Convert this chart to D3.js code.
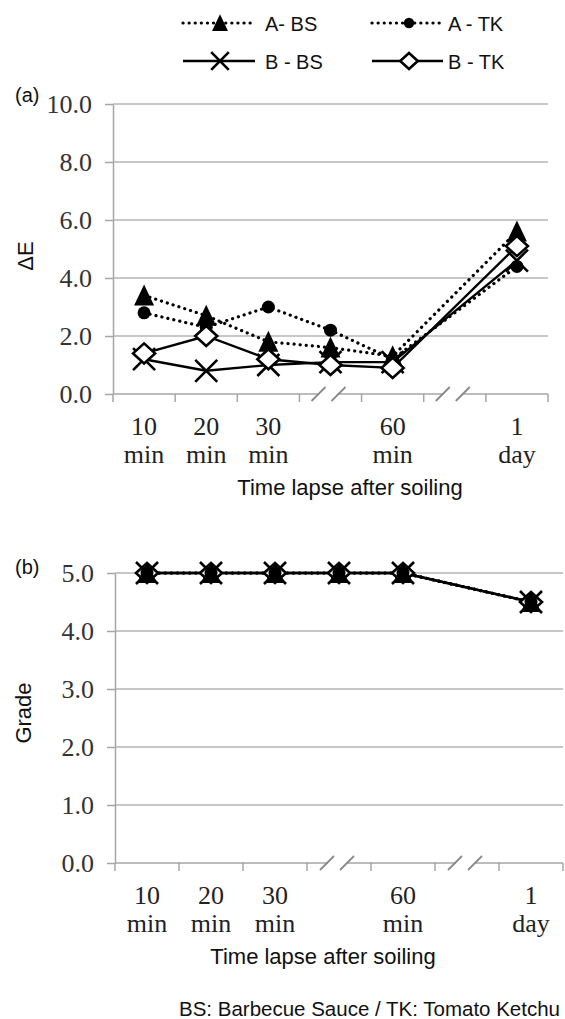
<!DOCTYPE html>
<html>
<head>
<meta charset="utf-8">
<script src="https://d3js.org/d3.v7.min.js"></script>
<style>
  body { margin: 0; background: #fff; }
  svg { display: block; }
</style>
</head>
<body>
<div id="chart"></div>
<script>
// x categories; the 4th and 6th slots are the broken parts of the axis
var categories = ["10min", "20min", "30min", "gap1", "60min", "gap2", "1day"];
var tickLabels = [["10", "min"], ["20", "min"], ["30", "min"], [], ["60", "min"], [], ["1", "day"]];
var breakSlots = ["gap1", "gap2"];

var seriesNames = ["A- BS", "A - TK", "B - BS", "B - TK"];

// (a) colour difference
var dE_A_BS = [3.4, 2.7, 1.8, 1.6, 1.3, null, 5.6];
var dE_A_TK = [2.8, 2.3, 3.0, 2.2, 1.2, null, 4.4];
var dE_B_BS = [1.2, 0.8, 1.0, 1.1, 1.1, null, 4.6];
var dE_B_TK = [1.4, 2.0, 1.2, 1.0, 0.9, null, 5.1];

// (b) grade
var gr_A_BS = [5.0, 5.0, 5.0, 5.0, 5.0, null, 4.5];
var gr_A_TK = [5.0, 5.0, 5.0, 5.0, 5.0, null, 4.5];
var gr_B_BS = [5.0, 5.0, 5.0, 5.0, 5.0, null, 4.5];
var gr_B_TK = [5.0, 5.0, 5.0, 5.0, 5.0, null, 4.5];

var yTicksA = [0, 2, 4, 6, 8, 10];
var yTicksB = [0, 1, 2, 3, 4, 5];

// styles
var markers = ["triangle", "circle", "cross", "diamond"];
var dotted = [true, true, false, false];
var serif = "'Liberation Serif', 'Times New Roman', serif";
var sans = "'Liberation Sans', Arial, sans-serif";
var gridColor = "#b4b4b4";
var axisColor = "#a6a6a6";

var svg = d3.select("#chart").append("svg")
    .attr("width", 565)
    .attr("height", 1019);
svg.append("rect").attr("width", 565).attr("height", 1019).attr("fill", "#fff");

function drawMarker(g, type, s) {
    if (type === "triangle") {
        g.append("path")
            .attr("d", "M0," + (-11 * s) + "L" + (10 * s) + "," + (10 * s) + "L" + (-10 * s) + "," + (10 * s) + "Z")
            .attr("fill", "#000");
    } else if (type === "circle") {
        g.append("circle").attr("r", 6.5 * s).attr("fill", "#000");
    } else if (type === "cross") {
        g.append("path")
            .attr("d", "M" + (-11 * s) + "," + (-11 * s) + "L" + (11 * s) + "," + (11 * s) +
                "M" + (11 * s) + "," + (-11 * s) + "L" + (-11 * s) + "," + (11 * s))
            .attr("stroke", "#000").attr("stroke-width", 2.6).attr("fill", "none");
    } else {
        g.append("path")
            .attr("d", "M0," + (-10 * s) + "L" + (11 * s) + ",0L0," + (10 * s) + "L" + (-11 * s) + ",0Z")
            .attr("stroke", "#000").attr("stroke-width", 2.6).attr("fill", "#fff");
    }
}

function styleLine(sel, isDotted) {
    sel.attr("fill", "none").attr("stroke", "#000");
    if (isDotted) {
        sel.attr("stroke-width", 3.2).attr("stroke-dasharray", "0.1,6").attr("stroke-linecap", "round");
    } else {
        sel.attr("stroke-width", 2.4);
    }
}

function panel(cfg) {
    var x = d3.scaleBand().domain(categories).range([cfg.left, cfg.right]);
    var y = d3.scaleLinear().domain([0, cfg.yMax]).range([cfg.bottom, cfg.top]);
    var bw = x.bandwidth();
    var g = svg.append("g");

    // gridlines
    g.append("g").selectAll("line")
        .data(cfg.yTicks.slice(1))
        .join("line")
        .attr("x1", cfg.left).attr("x2", cfg.right)
        .attr("y1", d => y(d)).attr("y2", d => y(d))
        .attr("stroke", gridColor).attr("stroke-width", 1.5);

    // y axis
    var ya = g.append("g")
        .attr("transform", "translate(" + cfg.left + ",0)")
        .call(d3.axisLeft(y).tickValues(cfg.yTicks).tickFormat(d3.format(".1f"))
            .tickSize(8).tickSizeOuter(0).tickPadding(13));
    ya.select(".domain").attr("stroke", axisColor).attr("stroke-width", 1.5);
    ya.selectAll(".tick line").attr("stroke", axisColor).attr("stroke-width", 1.5);
    ya.selectAll(".tick text")
        .attr("font-family", serif).attr("font-size", 26).attr("fill", "#333");

    // x axis line and ticks between categories
    var y0 = y(0);
    g.append("line")
        .attr("x1", cfg.left).attr("x2", cfg.right)
        .attr("y1", y0).attr("y2", y0)
        .attr("stroke", axisColor).attr("stroke-width", 1.5);
    var edges = categories.map(c => x(c)).concat([x.range()[1]]);
    g.append("g").selectAll("line")
        .data(edges)
        .join("line")
        .attr("x1", d => d).attr("x2", d => d)
        .attr("y1", y0).attr("y2", y0 + 8)
        .attr("stroke", axisColor).attr("stroke-width", 1.5);

    // axis breaks
    breakSlots.forEach(function (c) {
        var cx = x(c) + bw / 2 - 2;
        g.append("rect")
            .attr("x", cx - 9).attr("y", y0 - 2).attr("width", 18).attr("height", 4)
            .attr("fill", "#fff");
        [-10, 10].forEach(function (o) {
            g.append("line")
                .attr("x1", cx + o - 7).attr("x2", cx + o + 7)
                .attr("y1", y0 + 7).attr("y2", y0 - 7)
                .attr("stroke", "#8a8a8a").attr("stroke-width", 1.8);
        });
    });

    // category labels
    var lab = g.append("g").selectAll("text")
        .data(categories)
        .join("text")
        .attr("text-anchor", "middle")
        .attr("font-family", serif).attr("font-size", 26).attr("fill", "#222");
    lab.each(function (c, i) {
        var t = d3.select(this);
        tickLabels[i].forEach(function (s, j) {
            t.append("tspan")
                .attr("x", x(c) + bw / 2)
                .attr("y", y0 + 41 + j * 28)
                .text(s);
        });
    });

    // axis titles
    g.append("text")
        .attr("x", cfg.titleX).attr("y", y0 + 101)
        .attr("text-anchor", "middle")
        .attr("font-family", sans).attr("font-size", 22).attr("fill", "#111")
        .text("Time lapse after soiling");
    g.append("text")
        .attr("transform", "translate(" + cfg.yTitleX + "," + cfg.yTitleY + ") rotate(-90)")
        .attr("text-anchor", "middle")
        .attr("font-family", sans).attr("font-size", 22).attr("fill", "#111")
        .text(cfg.yTitle);
    g.append("text")
        .attr("x", 15).attr("y", cfg.tagY)
        .attr("font-family", sans).attr("font-size", 20).attr("fill", "#111")
        .text(cfg.tag);

    // series lines
    var line = d3.line().x(d => x(d.c) + bw / 2).y(d => y(d.v));
    cfg.series.forEach(function (vals, k) {
        var pts = vals.map((v, i) => ({ c: categories[i], v: v })).filter(d => d.v != null);
        g.append("path").datum(pts).attr("d", line).call(styleLine, dotted[k]);
    });

    // markers
    cfg.order.forEach(function (k) {
        cfg.series[k].forEach(function (v, i) {
            if (v == null) return;
            var m = g.append("g")
                .attr("transform", "translate(" + (x(categories[i]) + bw / 2) + "," + y(v) + ")");
            drawMarker(m, markers[k], 1);
        });
    });
}

panel({
    left: 113, right: 548, top: 104, bottom: 394,
    yMax: 10, yTicks: yTicksA,
    series: [dE_A_BS, dE_A_TK, dE_B_BS, dE_B_TK],
    order: [0, 1, 2, 3],
    titleX: 350, yTitle: "\u0394E", yTitleX: 33, yTitleY: 256,
    tag: "(a)", tagY: 102
});

panel({
    left: 115, right: 563, top: 573, bottom: 863,
    yMax: 5, yTicks: yTicksB,
    series: [gr_A_BS, gr_A_TK, gr_B_BS, gr_B_TK],
    order: [3, 2, 1, 0],
    titleX: 323, yTitle: "Grade", yTitleX: 31, yTitleY: 713,
    tag: "(b)", tagY: 574
});

// legend
var legendPos = [[183, 255, 220, 265, 23], [372, 443, 409, 448, 23],
                 [183, 255, 220, 265, 61], [372, 443, 409, 448, 61]];
var leg = svg.append("g");
seriesNames.forEach(function (name, k) {
    var p = legendPos[k];
    leg.append("line")
        .attr("x1", p[0]).attr("x2", p[1]).attr("y1", p[4]).attr("y2", p[4])
        .call(styleLine, dotted[k]);
    var m = leg.append("g").attr("transform", "translate(" + p[2] + "," + p[4] + ")");
    drawMarker(m, markers[k], 0.8);
    leg.append("text")
        .attr("x", p[3]).attr("y", p[4] + 8)
        .attr("font-family", sans).attr("font-size", 20).attr("fill", "#111")
        .text(name);
});

svg.append("text")
    .attr("x", 179).attr("y", 1016)
    .attr("font-family", sans).attr("font-size", 20.5).attr("fill", "#111")
    .text("BS: Barbecue Sauce / TK: Tomato Ketchu");
</script>
</body>
</html>
